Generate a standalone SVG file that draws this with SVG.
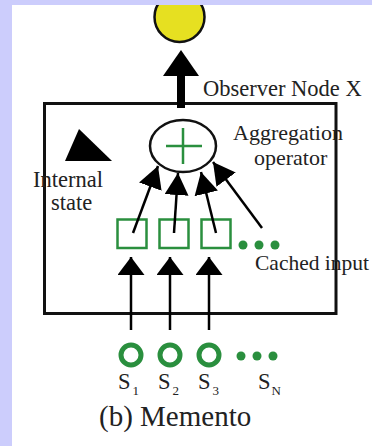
<svg xmlns="http://www.w3.org/2000/svg" width="372" height="446" viewBox="0 0 372 446">
<style>
text{font-family:"Liberation Serif","Times New Roman",serif;fill:#222;}
.lbl{font-size:22.5px;}
.g{stroke:#2a8f3e;fill:none;}
.gd{fill:#2a8f3e;}
.ln{stroke:#000;stroke-width:2.5;fill:none;}
</style>
<defs>
<marker id="ah" viewBox="0 0 22 24" refX="22" refY="12" markerWidth="22" markerHeight="24" markerUnits="userSpaceOnUse" orient="auto">
<path d="M0,0 L22,12 L0,24 z" fill="#000"/>
</marker>
<marker id="ah2" viewBox="0 0 18 27" refX="18" refY="13.5" markerWidth="18" markerHeight="27" markerUnits="userSpaceOnUse" orient="auto">
<path d="M0,0 L18,13.5 L0,27 z" fill="#000"/>
</marker>
</defs>
<rect x="0" y="0" width="372" height="446" fill="#fff"/>
<g id="observer">
<circle cx="179.5" cy="17" r="25" fill="#e6e021" stroke="#111" stroke-width="2.5"/>
<text class="lbl" x="203" y="96">Observer Node X</text>
</g>
<g id="memento-box">
<rect x="44.5" y="103.5" width="291.5" height="210" fill="none" stroke="#111" stroke-width="3"/>
</g>
<g id="internal-state">
<polygon points="79,129 65,161 112,161" fill="#000"/>
<text class="lbl" x="33" y="187">Internal</text>
<text class="lbl" x="51" y="210">state</text>
</g>
<g id="aggregation">
<ellipse cx="183" cy="146" rx="33" ry="26" fill="#fff" stroke="#111" stroke-width="2.5"/>
<path class="g" stroke-width="2.5" d="M166,146 H202 M183,128 V164"/>
<text class="lbl" x="233" y="140" style="font-size:22px">Aggregation</text>
<text class="lbl" x="254" y="164.5" style="font-size:22px">operator</text>
</g>
<g id="cached">
<rect class="g" stroke-width="2.5" x="117.5" y="219.5" width="29" height="28.5"/>
<rect class="g" stroke-width="2.5" x="159.5" y="219.5" width="29" height="28.5"/>
<rect class="g" stroke-width="2.5" x="201.5" y="219.5" width="29" height="28.5"/>
<circle class="gd" cx="243" cy="245" r="4.5"/>
<circle class="gd" cx="259" cy="245" r="4.5"/>
<circle class="gd" cx="275" cy="245" r="4.5"/>
<text class="lbl" x="255" y="270" style="font-size:21.5px">Cached input</text>
</g>
<g id="sources">
<circle class="g" stroke-width="5" cx="131" cy="355" r="10"/>
<circle class="g" stroke-width="5" cx="170" cy="355" r="10"/>
<circle class="g" stroke-width="5" cx="209" cy="355" r="10"/>
<circle class="gd" cx="241" cy="356" r="4.5"/>
<circle class="gd" cx="257" cy="356" r="4.5"/>
<circle class="gd" cx="273" cy="356" r="4.5"/>
<text class="lbl" x="118" y="389">S<tspan font-size="13" dx="2" dy="6">1</tspan></text>
<text class="lbl" x="158" y="389">S<tspan font-size="13" dx="2" dy="6">2</tspan></text>
<text class="lbl" x="198" y="389">S<tspan font-size="13" dx="2" dy="6">3</tspan></text>
<text class="lbl" x="258" y="389">S<tspan font-size="13" dx="1" dy="6">N</tspan></text>
</g>
<g id="connectors">
<rect x="177" y="74" width="8" height="34" fill="#000"/>
<polygon points="163,76 181,50 199,76" fill="#000"/>
<line class="ln" x1="133" y1="233" x2="158" y2="166" marker-end="url(#ah)"/>
<line class="ln" x1="174" y1="233" x2="178" y2="173" marker-end="url(#ah)"/>
<line class="ln" x1="216" y1="233" x2="201" y2="172" marker-end="url(#ah)"/>
<line class="ln" x1="262" y1="228" x2="213" y2="162" marker-end="url(#ah)"/>
<line class="ln" x1="131" y1="330" x2="131" y2="257" marker-end="url(#ah2)"/>
<line class="ln" x1="170" y1="330" x2="170" y2="257" marker-end="url(#ah2)"/>
<line class="ln" x1="209" y1="330" x2="209" y2="257" marker-end="url(#ah2)"/>
</g>
<text x="99" y="426" style="font-size:29px">(b) Memento</text>
<rect x="0" y="0" width="372" height="5" fill="#cccdfc"/>
<rect x="0" y="0" width="12" height="446" fill="#cccdfc"/>
</svg>
